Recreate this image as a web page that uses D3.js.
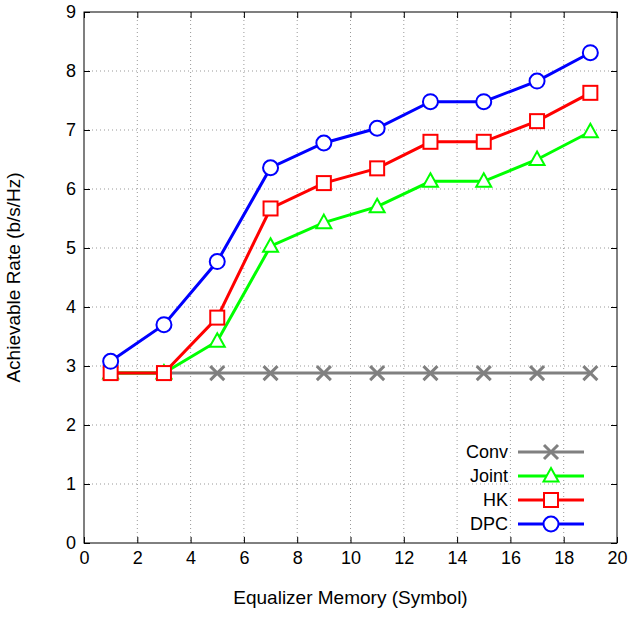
<!DOCTYPE html><html><head><script src="https://cdn.jsdelivr.net/npm/d3@7"></script>
<style>body{margin:0;background:#fff}text{font-family:"Liberation Sans",Arial,sans-serif}</style></head><body>
<svg id="c" width="633" height="618"></svg>
<script>
const xs=[1,3,5,7,9,11,13,15,17,19];
const conv=[2.88,2.88,2.88,2.88,2.88,2.88,2.88,2.88,2.88,2.88];
const joint=[2.88,2.88,3.42,5.03,5.43,5.70,6.13,6.13,6.50,6.97];
const hk=[2.88,2.88,3.82,5.67,6.10,6.35,6.80,6.80,7.15,7.63];
const dpc=[3.08,3.70,4.77,6.36,6.78,7.03,7.48,7.48,7.83,8.31];
const xTicks=d3.range(0,21,2), yTicks=d3.range(0,10,1);
const svg=d3.select("#c");
const L=84,R=617,T=12,B=543;
const x=d3.scaleLinear().domain([0,20]).range([L,R]);
const y=d3.scaleLinear().domain([0,9]).range([B,T]);
const g=svg.append("g");
g.selectAll(".gx").data(xTicks.slice(1,-1)).join("line").attr("x1",d=>x(d)).attr("x2",d=>x(d)).attr("y1",T).attr("y2",B).attr("stroke","#999").attr("stroke-dasharray","1,3");
g.selectAll(".gy").data(yTicks.slice(1,-1)).join("line").attr("y1",d=>y(d)).attr("y2",d=>y(d)).attr("x1",L).attr("x2",R).attr("stroke","#999").attr("stroke-dasharray","1,3");
svg.append("g").attr("transform",`translate(0,${B})`).call(d3.axisBottom(x).tickValues(xTicks).tickSize(-6).tickPadding(8));
svg.append("g").attr("transform",`translate(${L},0)`).call(d3.axisLeft(y).tickValues(yTicks).tickSize(-6).tickPadding(8));
svg.append("g").attr("transform",`translate(0,${T})`).call(d3.axisTop(x).tickValues(xTicks).tickSize(-6).tickFormat(""));
svg.append("g").attr("transform",`translate(${R},0)`).call(d3.axisRight(y).tickValues(yTicks).tickSize(-6).tickFormat(""));
svg.selectAll(".domain").remove();
svg.append("rect").attr("x",L).attr("y",T).attr("width",R-L).attr("height",B-T).attr("fill","none").attr("stroke","#000");
svg.selectAll(".tick text").attr("font-size",18).attr("fill","#000").style("font-family","Liberation Sans, Arial");
svg.append("text").attr("x",(L+R)/2).attr("y",604).attr("text-anchor","middle").attr("font-size",19).text("Equalizer Memory (Symbol)");
svg.append("text").attr("transform",`translate(20,${(T+B)/2}) rotate(-90)`).attr("text-anchor","middle").attr("font-size",19).text("Achievable Rate (b/s/Hz)");
const series=[["Conv",conv,"#808080","x"],["Joint",joint,"#00ff00","tri"],["HK",hk,"#ff0000","sq"],["DPC",dpc,"#0000ff","circ"]];
function mark(sel,type,c){
 if(type=="x")sel.append("path").attr("d","M-7,-7L7,7M-7,7L7,-7").attr("stroke",c).attr("stroke-width",3);
 if(type=="tri")sel.append("path").attr("d","M0,-8L7.5,5.5L-7.5,5.5Z").attr("stroke",c).attr("stroke-width",2).attr("fill","#fff");
 if(type=="sq")sel.append("rect").attr("x",-7).attr("y",-7).attr("width",14).attr("height",14).attr("stroke",c).attr("stroke-width",2).attr("fill","#fff");
 if(type=="circ")sel.append("circle").attr("r",7.5).attr("stroke",c).attr("stroke-width",2).attr("fill","#fff");
}
const line=d3.line().x((d,i)=>x(xs[i])).y(d=>y(d));
series.forEach(([n,v,c,t])=>{
 svg.append("path").attr("d",line(v)).attr("fill","none").attr("stroke",c).attr("stroke-width",3);
 v.forEach((d,i)=>mark(svg.append("g").attr("transform",`translate(${x(xs[i])},${y(d)})`),t,c));
});
series.forEach(([n,v,c,t],i)=>{
 const yy=452+i*24;
 svg.append("text").attr("x",508).attr("y",yy+6).attr("text-anchor","end").attr("font-size",18).text(n);
 svg.append("line").attr("x1",518).attr("x2",584).attr("y1",yy).attr("y2",yy).attr("stroke",c).attr("stroke-width",3);
 mark(svg.append("g").attr("transform",`translate(551,${yy})`),t,c);
});
</script></body></html>
